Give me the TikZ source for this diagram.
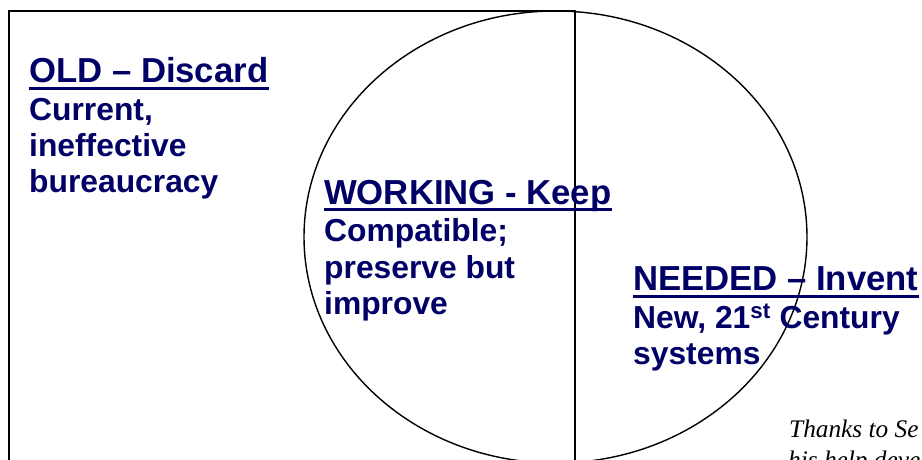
\documentclass[tikz,border=0pt]{standalone}
\usepackage{fontspec}
\setmainfont{Liberation Sans}
\newfontfamily\notefont{Liberation Serif}
\definecolor{navy}{RGB}{0,0,102}
\tikzset{
  head/.style={inner sep=0pt, anchor=base west, text=navy, font=\fontsize{34.7}{40}\selectfont\bfseries},
  body/.style={inner sep=0pt, anchor=base west, text=navy, font=\fontsize{31.8}{36}\selectfont\bfseries},
  note/.style={inner sep=0pt, anchor=base west, text=black, font=\fontsize{25.3}{30}\selectfont\notefont\itshape},
  uline/.style={draw=navy, line width=3.2pt},
  outline/.style={draw=black, line width=2pt},
  oval/.style={draw=black, line width=1.4pt}
}
\begin{document}
\begin{tikzpicture}[x=1pt, y=-1pt]
\useasboundingbox (0,0) rectangle (922,460);
\clip (0,0) rectangle (922,460);
% shapes
\draw[outline] (9,11) rectangle (575,490);
\draw[oval] (555.5,237) ellipse [x radius=251.5pt, y radius=226pt];
% OLD
\node[head] (oldh) at (29,82.7) {OLD -- Discard};
\draw[uline] ([yshift=-5.5pt]oldh.base west) -- ([yshift=-5.5pt]oldh.base east);
\node[body] (old1) at (29,120.7) {Current,};
\node[body] (old2) at (29,156.7) {ineffective};
\node[body] (old3) at (29,192.5) {bureaucracy};
% WORKING
\node[head] (workh) at (324,204) {WORKING - Keep};
\draw[uline] ([yshift=-5.5pt]workh.base west) -- ([yshift=-5.5pt]workh.base east);
\node[body] (work1) at (324,241.7) {Compatible;};
\node[body] (work2) at (324,278.2) {preserve but};
\node[body] (work3) at (324,314.7) {improve};
% NEEDED
\node[head] (needh) at (633,290.7) {NEEDED -- Invent};
\draw[uline] ([yshift=-5.5pt]needh.base west) -- ([yshift=-5.5pt]needh.base east);
\node[body] (need1) at (633,328) {New, 21\textsuperscript{st} Century};
\node[body] (need2) at (633,364) {systems};
% note
\node[note] (note1) at (789,437) {Thanks to Se};
\node[note] (note2) at (788,468.5) {his help deve};
\end{tikzpicture}
\end{document}
